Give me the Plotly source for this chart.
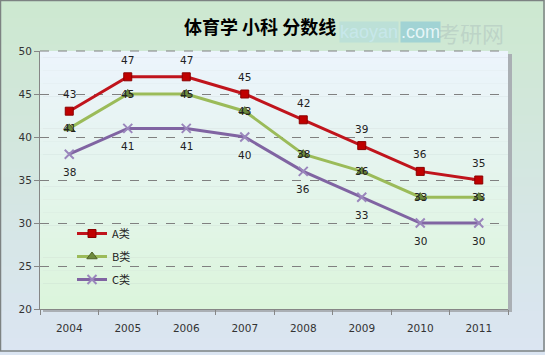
import plotly.graph_objects as go

years = ["2004", "2005", "2006", "2007", "2008", "2009", "2010", "2011"]
a_vals = [43, 47, 47, 45, 42, 39, 36, 35]
b_vals = [41, 45, 45, 43, 38, 36, 33, 33]
c_vals = [38, 41, 41, 40, 36, 33, 30, 30]
series_names = ["A类", "B类", "C类"]
y_ticks = [20, 25, 30, 35, 40, 45, 50]

W, H = 545, 355
L, R, T, B = 40, 37, 51, 46
PW, PH = W - L - R, H - T - B

def px(x):
    return (x - L) / PW

def py(y):
    return 1 - (y - T) / PH

def lerp(c1, c2, t):
    return "rgb(%d,%d,%d)" % tuple(round(c1[i] + (c2[i] - c1[i]) * t) for i in range(3))

shapes = []
n = 40
top_c, bot_c = (205, 232, 208), (219, 229, 242)
for i in range(n):
    y0 = i * H / n
    y1 = (i + 1) * H / n + 0.6
    shapes.append(dict(type="rect", xref="paper", yref="paper", x0=px(0), x1=px(W),
                       y0=py(y1), y1=py(y0), fillcolor=lerp(top_c, bot_c, i / (n - 1)),
                       line=dict(width=0), layer="below"))
shapes.append(dict(type="rect", xref="paper", yref="paper", x0=px(L + 3), x1=px(L + PW + 4),
                   y0=py(T + PH + 3), y1=py(T + 3), fillcolor="rgb(170,175,180)",
                   line=dict(width=0), layer="below"))
p_top, p_bot = (236, 244, 252), (220, 245, 220)
for i in range(n):
    y0 = T + i * PH / n
    y1 = T + (i + 1) * PH / n + 0.4
    shapes.append(dict(type="rect", xref="paper", yref="paper", x0=0, x1=1,
                       y0=py(min(y1, T + PH)), y1=py(y0), fillcolor=lerp(p_top, p_bot, i / (n - 1)),
                       line=dict(width=0), layer="below"))
shapes.append(dict(type="line", xref="paper", yref="paper", x0=0, x1=1, y0=1, y1=1,
                   line=dict(color="rgb(128,128,128)", width=1, dash="dash")))
shapes.append(dict(type="rect", xref="paper", yref="paper", x0=px(0.5), x1=px(W - 1),
                   y0=py(H - 4), y1=py(0.5), fillcolor="rgba(0,0,0,0)",
                   line=dict(color="rgb(125,130,130)", width=1.5)))

fig = go.Figure()

styles = [
    dict(vals=a_vals, color="#c0141c", mk=dict(symbol="square", size=8, color="#c00000",
         line=dict(color="#8b0000", width=1)), shift=17),
    dict(vals=b_vals, color="#9bbb59", mk=dict(symbol="triangle-up", size=9, color="#6e8b3d",
         line=dict(color="#4f6228", width=1)), shift=0),
    dict(vals=c_vals, color="#8064a2", mk=dict(symbol="x-thin", size=9, color="#a08cc0",
         line=dict(color="#9a86bc", width=2)), shift=-18),
]

lbl_font = dict(family="DejaVu Sans", size=10.5, color="#222")
annotations = []
for i, (name, s) in enumerate(zip(series_names, styles)):
    fig.add_trace(go.Scatter(
        x=years, y=s["vals"], name=name, mode="lines+markers",
        line=dict(color=s["color"], width=3), marker=s["mk"],
        legendgroup=f"g{i}", cliponaxis=False,
    ))
    for k, yv in enumerate(s["vals"]):
        annotations.append(dict(x=k, y=yv, xref="x", yref="y", text=str(yv), showarrow=False,
                                yshift=s["shift"], font=lbl_font, xanchor="center", yanchor="middle"))

annotations += [
    dict(text="<b>体育学 小科 分数线</b>", x=px(260), y=py(26), xref="paper", yref="paper",
         showarrow=False, font=dict(family="Noto Sans CJK SC", size=18, color="#000"),
         xanchor="center", yanchor="middle"),
    dict(text="kaoyan", x=px(339), y=py(32), xref="paper", yref="paper", showarrow=False,
         xanchor="left", yanchor="middle", bgcolor="rgba(170,215,220,0.5)",
         font=dict(family="Liberation Sans Narrow, Liberation Sans", size=18, color="rgba(200,232,236,0.95)"),
         borderpad=0),
    dict(text=".com", x=px(400), y=py(32), xref="paper", yref="paper", showarrow=False,
         xanchor="left", yanchor="middle", bgcolor="rgba(150,205,212,0.8)",
         font=dict(family="Liberation Sans Narrow, Liberation Sans", size=18, color="rgba(235,248,250,0.95)"),
         borderpad=0),
    dict(text="考研网", x=px(436), y=py(32), xref="paper", yref="paper", showarrow=False,
         xanchor="left", yanchor="middle",
         font=dict(family="Noto Sans CJK SC", size=22, color="rgba(175,195,190,0.55)")),
]

fig.update_layout(
    width=W, height=H, margin=dict(l=L, r=R, t=T, b=B),
    paper_bgcolor="rgb(212,230,225)", plot_bgcolor="rgba(0,0,0,0)",
    shapes=shapes, annotations=annotations,
    showlegend=True,
    legend=dict(x=px(72), y=py(219), xanchor="left", yanchor="top",
                bgcolor="rgba(0,0,0,0)", tracegroupgap=4, itemwidth=30,
                font=dict(family="Noto Sans CJK SC", size=11, color="#222")),
    xaxis=dict(type="category", range=[-0.5, 7.5], showgrid=False, showline=True,
               linecolor="rgb(134,134,134)", ticks="outside", ticklen=5, tickcolor="rgb(134,134,134)",
               tickson="boundaries", tickfont=dict(family="DejaVu Sans", size=10.5, color="#333"),
               ticklabelstandoff=9),
    yaxis=dict(range=[20, 50], tickvals=y_ticks, showgrid=True, gridcolor="rgb(128,128,128)",
               griddash="dash", gridwidth=1, showline=True, linecolor="rgb(134,134,134)",
               ticks="outside", ticklen=5, tickcolor="rgb(134,134,134)", zeroline=False,
               tickfont=dict(family="DejaVu Sans", size=10.5, color="#333")),
    font=dict(family="DejaVu Sans"),
)

fig.write_html("out.html")
